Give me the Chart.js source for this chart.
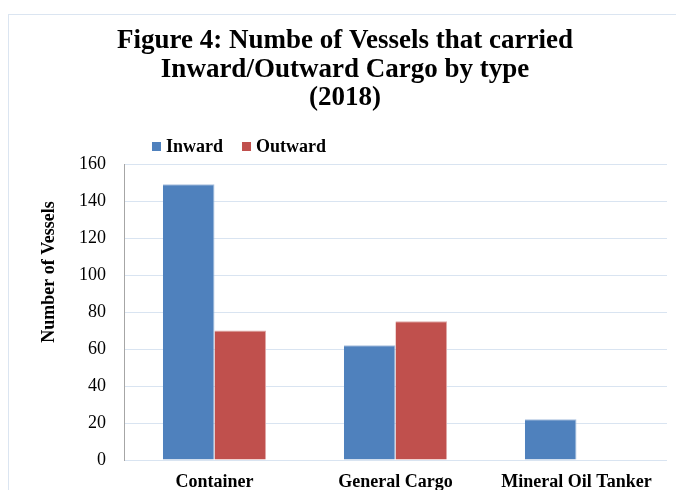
<!DOCTYPE html>
<html>
<head>
<meta charset="utf-8">
<script src="https://cdn.jsdelivr.net/npm/chart.js@4/dist/chart.umd.min.js"></script>
<style>
  html, body { margin: 0; padding: 0; background: #ffffff; overflow: hidden; }
  #wrap { position: relative; width: 676px; height: 490px; }
  canvas { display: block; }
</style>
</head>
<body>
<div id="wrap"><canvas id="c" width="676" height="490"></canvas></div>
<script>
const titleLines = ["Figure 4: Numbe of Vessels that carried", "Inward/Outward Cargo by type", "(2018)"];
const categories = ["Container", "General Cargo", "Mineral Oil Tanker"];
const seriesNames = ["Inward", "Outward"];
const inwardValues = [149, 62, 22];
const outwardValues = [70, 75, 0];
const yAxisTitle = "Number of Vessels";
const yTicks = [0, 20, 40, 60, 80, 100, 120, 140, 160];

const SERIF = "'Liberation Serif', 'DejaVu Serif', serif";
const colors = ["#4f81bd", "#c0504d"];

const decor = {
  id: 'decor',
  beforeDraw(chart) {
    const ctx = chart.ctx;
    ctx.save();
    ctx.fillStyle = '#ffffff';
    ctx.fillRect(0, 0, chart.width, chart.height);
    ctx.strokeStyle = '#dbe5f1';
    ctx.lineWidth = 1;
    ctx.strokeRect(8.5, 14.5, 800, 600);
    ctx.restore();
  },
  afterDraw(chart) {
    const ctx = chart.ctx;
    ctx.save();
    // Title
    ctx.fillStyle = '#000000';
    ctx.font = "bold 27px " + SERIF;
    ctx.textAlign = 'center';
    ctx.textBaseline = 'alphabetic';
    const baselines = [48, 77, 105];
    titleLines.forEach((t, i) => ctx.fillText(t, 345, baselines[i]));
    // Y axis title
    ctx.save();
    ctx.translate(54, 272);
    ctx.rotate(-Math.PI / 2);
    ctx.font = "bold 18px " + SERIF;
    ctx.textAlign = 'center';
    ctx.textBaseline = 'alphabetic';
    ctx.fillText(yAxisTitle, 0, 0);
    ctx.restore();
    // Legend
    ctx.font = "bold 18px " + SERIF;
    ctx.textAlign = 'left';
    ctx.textBaseline = 'middle';
    let x = 152;
    const y = 146;
    chart.data.datasets.forEach((ds) => {
      ctx.fillStyle = ds.backgroundColor;
      ctx.fillRect(x, y - 4, 9, 9);
      ctx.fillStyle = '#000000';
      ctx.fillText(ds.label, x + 14, y + 1);
      x += 14 + ctx.measureText(ds.label).width + 19;
    });
    ctx.restore();
  }
};

new Chart(document.getElementById('c'), {
  type: 'bar',
  data: {
    labels: categories,
    datasets: [
      { label: seriesNames[0], data: inwardValues, backgroundColor: colors[0], borderColor: '#a9c0de', borderWidth: {top: 1, left: 0, right: 1, bottom: 0} },
      { label: seriesNames[1], data: outwardValues, backgroundColor: colors[1], borderColor: '#e0a9a8', borderWidth: {top: 1, left: 0, right: 1, bottom: 0} }
    ]
  },
  options: {
    responsive: false,
    animation: false,
    devicePixelRatio: 1,
    layout: { padding: { top: 164, left: 0, right: 9, bottom: 0 } },
    plugins: {
      legend: { display: false },
      title: { display: false },
      tooltip: { enabled: false }
    },
    datasets: {
      bar: { categoryPercentage: 0.57, barPercentage: 1.0 }
    },
    scales: {
      x: {
        grid: { display: false, drawTicks: false },
        border: { display: false },
        ticks: {
          color: '#000000',
          font: { family: SERIF, size: 18, weight: 'bold' },
          padding: 12,
          maxRotation: 0,
          autoSkip: false
        },
        afterFit(scale) { scale.height = 30; }
      },
      y: {
        min: 0,
        max: 160,
        afterBuildTicks(scale) { scale.ticks = yTicks.map(v => ({ value: v })); },
        grid: { color: '#d9e4f1', lineWidth: 1, drawTicks: false },
        border: { display: true, color: '#a6a6a6', width: 1 },
        ticks: {
          color: '#000000',
          font: { family: SERIF, size: 18 },
          padding: 18
        },
        afterFit(scale) { scale.width = 124; }
      }
    }
  },
  plugins: [decor]
});
</script>
</body>
</html>
